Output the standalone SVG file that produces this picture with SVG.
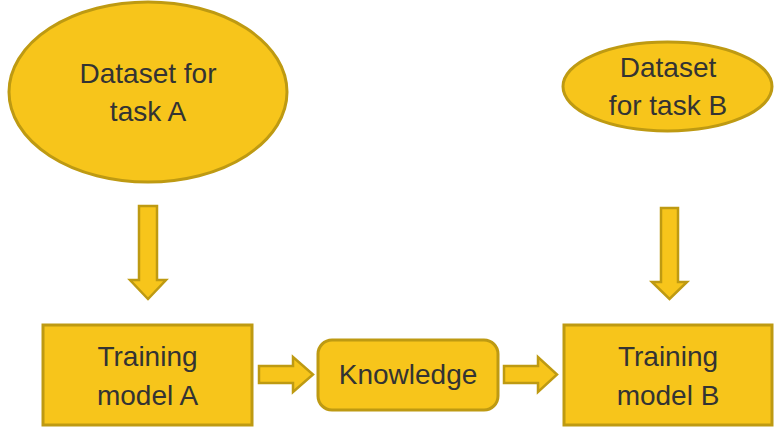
<svg xmlns="http://www.w3.org/2000/svg" width="777" height="432" viewBox="0 0 777 432">
<style>
.shape{fill:#F7C51B;stroke:#BE9A12;stroke-width:3}
.arrow{fill:#F7C51B;stroke:#BE9A12;stroke-width:2.5;stroke-linejoin:miter}
.lbl{font-family:"Liberation Sans",Arial,sans-serif;font-size:28px;fill:#333333;text-anchor:middle}
</style>
<rect width="777" height="432" fill="#ffffff"/>
<g id="connectors">
<path class="arrow" d="M139,206 H157 V280 H166 L148,299 L130,280 H139 Z"/>
<path class="arrow" d="M661,208 H678 V282 H687 L669.5,299 L652,282 H661 Z"/>
<path class="arrow" d="M259,366 H293 V357 L313,374.5 L293,392 V383 H259 Z"/>
<path class="arrow" d="M504,366 H538 V357 L557,374.5 L538,392 V383 H504 Z"/>
</g>
<g id="datasetA">
<ellipse class="shape" cx="148" cy="92" rx="139" ry="90"/>
<text class="lbl" x="148" y="83">Dataset for</text>
<text class="lbl" x="148" y="121">task A</text>
</g>
<g id="datasetB">
<ellipse class="shape" cx="667.5" cy="86.5" rx="104.5" ry="44.5"/>
<text class="lbl" x="668" y="77">Dataset</text>
<text class="lbl" x="668" y="115">for task B</text>
</g>
<g id="trainingA">
<rect class="shape" x="43" y="325" width="209" height="100"/>
<text class="lbl" x="147.5" y="366">Training</text>
<text class="lbl" x="147.5" y="405">model A</text>
</g>
<g id="knowledge">
<rect class="shape" x="318" y="340" width="180" height="70" rx="14"/>
<text class="lbl" x="408" y="384">Knowledge</text>
</g>
<g id="trainingB">
<rect class="shape" x="564" y="325" width="208" height="100"/>
<text class="lbl" x="668" y="366">Training</text>
<text class="lbl" x="668" y="405">model B</text>
</g>
</svg>
